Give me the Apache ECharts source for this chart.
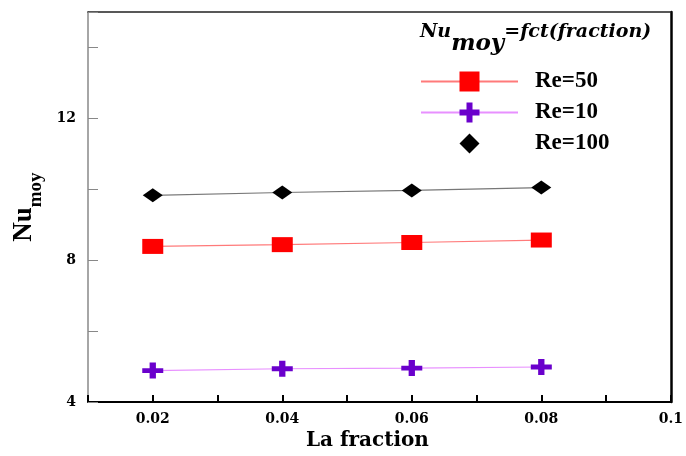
<!DOCTYPE html>
<html>
<head>
<meta charset="utf-8">
<script src="https://cdn.jsdelivr.net/npm/echarts@6/dist/echarts.min.js"></script>
<style>html,body{margin:0;padding:0;background:#fff;overflow:hidden}#c{position:absolute;left:0;top:0;width:686px;height:456px}</style>
</head>
<body>
<div id="c"></div>
<script>
const fractions = [0.02, 0.04, 0.06, 0.08];
const re50 = [8.39, 8.44, 8.50, 8.57];
const re10 = [4.89, 4.94, 4.96, 4.99];
const re100 = [9.83, 9.91, 9.97, 10.05];
const seriesNames = ['Re=50', 'Re=10', 'Re=100'];
const xLabels = {2: '0.02', 4: '0.04', 6: '0.06', 8: '0.08', 10: '0.1'};
const yLabels = {4: '4', 8: '8', 12: '12'};

const SERIF = '"DejaVu Serif", serif';
const TIMES = '"Liberation Serif", serif';
const plus = 'path://M3.5,0H6.5V3.5H10V6.5H6.5V10H3.5V6.5H0V3.5H3.5Z';
const pairs = arr => fractions.map((f, i) => [f, arr[i]]);

const chart = echarts.init(document.getElementById('c'), null, {renderer: 'canvas', width: 686, height: 456});
chart.setOption({
  animation: false,
  backgroundColor: '#fff',
  title: {
    left: 415, top: 18,
    text: '{a|Nu}{b|moy}{a|=fct(fraction)}',
    textStyle: {
      rich: {
        a: {fontFamily: SERIF, fontWeight: 'bold', fontStyle: 'italic', fontSize: 19, lineHeight: 21, verticalAlign: 'top', color: '#000'},
        b: {fontFamily: SERIF, fontWeight: 'bold', fontStyle: 'italic', fontSize: 23, lineHeight: 24, verticalAlign: 'top', padding: [10, 0, 0, 0], color: '#000'}
      }
    }
  },
  legend: {
    orient: 'vertical', left: 415, top: 65,
    itemWidth: 97, itemHeight: 25, itemGap: 8,
    textStyle: {fontFamily: TIMES, fontWeight: 'bold', fontSize: 23, color: '#000', padding: [0, 0, 0, 12]},
    data: [
      {name: seriesNames[0]},
      {name: seriesNames[1]},
      {name: seriesNames[2], lineStyle: {opacity: 0, width: 0}}
    ]
  },
  grid: {left: 88, right: 11, top: 12, bottom: 49},
  xAxis: [{
    type: 'value', min: 0.01, max: 0.1, interval: 0.01,
    name: 'La fraction', nameLocation: 'middle', nameGap: 25,
    nameTextStyle: {fontFamily: SERIF, fontWeight: 'bold', fontSize: 20, color: '#000', padding: [0, 24, 0, 0]},
    axisLine: {onZero: false, lineStyle: {color: '#000', width: 2}},
    axisTick: {inside: true, length: 7, lineStyle: {color: '#000', width: 2}},
    axisLabel: {
      margin: 10, fontFamily: SERIF, fontWeight: 'bold', fontSize: 14, color: '#000',
      formatter: v => xLabels[Math.round(v * 100)] || ''
    },
    splitLine: {show: false}
  }, {
    type: 'value', position: 'top', min: 0.01, max: 0.1,
    axisLine: {show: true, onZero: false, lineStyle: {color: '#222', width: 1.5}},
    axisTick: {show: false}, axisLabel: {show: false}, splitLine: {show: false}
  }],
  yAxis: [{
    type: 'value', min: 4, max: 15, interval: 2,
    name: '{a|Nu}{b|moy}', nameLocation: 'middle', nameRotate: 90, nameGap: 36,
    nameTextStyle: {
      rich: {
        a: {fontFamily: TIMES, fontWeight: 'bold', fontSize: 27, lineHeight: 27, verticalAlign: 'top', color: '#000'},
        b: {fontFamily: TIMES, fontWeight: 'bold', fontSize: 19, lineHeight: 19, verticalAlign: 'top', padding: [16, 0, 0, 0], color: '#000'}
      }
    },
    axisLine: {onZero: false, lineStyle: {color: '#888', width: 1.5}},
    axisTick: {inside: true, length: 10, lineStyle: {color: '#888', width: 1}},
    axisLabel: {
      margin: 12, fontFamily: SERIF, fontWeight: 'bold', fontSize: 14, color: '#000',
      formatter: v => yLabels[Math.round(v)] || ''
    },
    splitLine: {show: false}
  }, {
    type: 'value', position: 'right', min: 4, max: 15,
    axisLine: {show: true, onZero: false, lineStyle: {color: '#000', width: 2.5}},
    axisTick: {show: false}, axisLabel: {show: false}, splitLine: {show: false}
  }],
  series: [
    {
      name: seriesNames[0], type: 'line', data: pairs(re50),
      symbol: 'rect', symbolSize: [21, 15],
      itemStyle: {color: '#ff0000'},
      lineStyle: {color: '#ff7a7a', width: 1.2}
    },
    {
      name: seriesNames[1], type: 'line', data: pairs(re10),
      symbol: plus, symbolSize: [21, 16],
      itemStyle: {color: '#6a00cc'},
      lineStyle: {color: '#e890ff', width: 1.2}
    },
    {
      name: seriesNames[2], type: 'line', data: pairs(re100),
      symbol: 'diamond', symbolSize: [20, 14],
      itemStyle: {color: '#000'},
      lineStyle: {color: '#777', width: 1.2}
    }
  ]
});
</script>
</body>
</html>
